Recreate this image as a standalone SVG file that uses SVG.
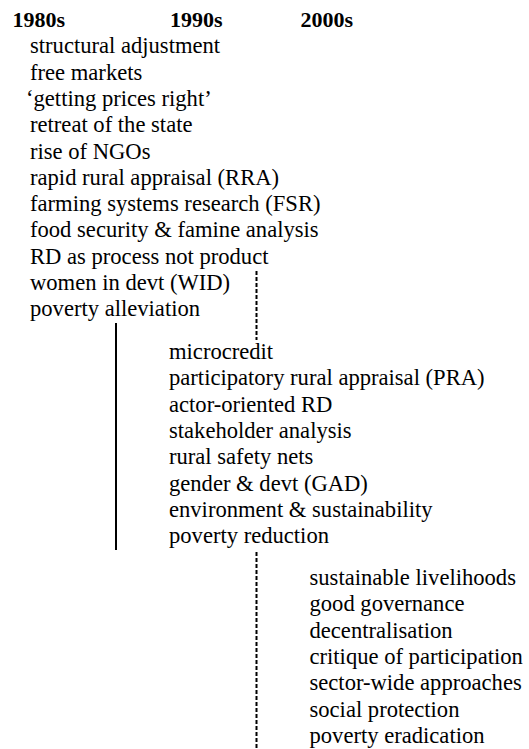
<svg xmlns="http://www.w3.org/2000/svg" width="529" height="749" viewBox="0 0 529 749">
<defs>
<style>
.solid{stroke:#000;stroke-width:2;fill:none}
.dash{stroke:#000;stroke-width:2;stroke-dasharray:4 2;fill:none}
</style>
</defs>
<rect width="529" height="749" fill="#fff"/>
<g id="headers" font-family="Liberation Serif" font-size="22" font-weight="bold" fill="#000">
<text x="12.5" y="27">1980s</text>
<text x="170" y="27">1990s</text>
<text x="300.5" y="27">2000s</text>
</g>
<g id="block1980s" font-family="Liberation Serif" font-size="22.6" fill="#000">
<text x="30" y="53.3">structural adjustment</text>
<text x="30" y="79.6">free markets</text>
<text x="26" y="105.9">‘getting prices right’</text>
<text x="30" y="132.2">retreat of the state</text>
<text x="30" y="158.5">rise of NGOs</text>
<text x="30" y="184.8">rapid rural appraisal (RRA)</text>
<text x="30" y="211.1">farming systems research (FSR)</text>
<text x="30" y="237.4">food security &amp; famine analysis</text>
<text x="30" y="263.7">RD as process not product</text>
<text x="30" y="290">women in devt (WID)</text>
<text x="30" y="316.3">poverty alleviation</text>
</g>
<g id="block1990s" font-family="Liberation Serif" font-size="22.6" fill="#000">
<text x="169" y="359">microcredit</text>
<text x="169" y="385.3">participatory rural appraisal (PRA)</text>
<text x="169" y="411.6">actor-oriented RD</text>
<text x="169" y="437.9">stakeholder analysis</text>
<text x="169" y="464.2">rural safety nets</text>
<text x="169" y="490.5">gender &amp; devt (GAD)</text>
<text x="169" y="516.8">environment &amp; sustainability</text>
<text x="169" y="543.1">poverty reduction</text>
</g>
<g id="block2000s" font-family="Liberation Serif" font-size="22.6" fill="#000">
<text x="309.5" y="585">sustainable livelihoods</text>
<text x="309.5" y="611.3">good governance</text>
<text x="309.5" y="637.6">decentralisation</text>
<text x="309.5" y="663.9">critique of participation</text>
<text x="309.5" y="690.2">sector-wide approaches</text>
<text x="309.5" y="716.5">social protection</text>
<text x="309.5" y="742.8">poverty eradication</text>
</g>
<g id="connectors">
<line class="dash" x1="256.5" y1="271" x2="256.5" y2="340"/>
<line class="solid" x1="116" y1="323" x2="116" y2="550"/>
<line class="dash" x1="256.5" y1="552" x2="256.5" y2="749"/>
</g>
</svg>
